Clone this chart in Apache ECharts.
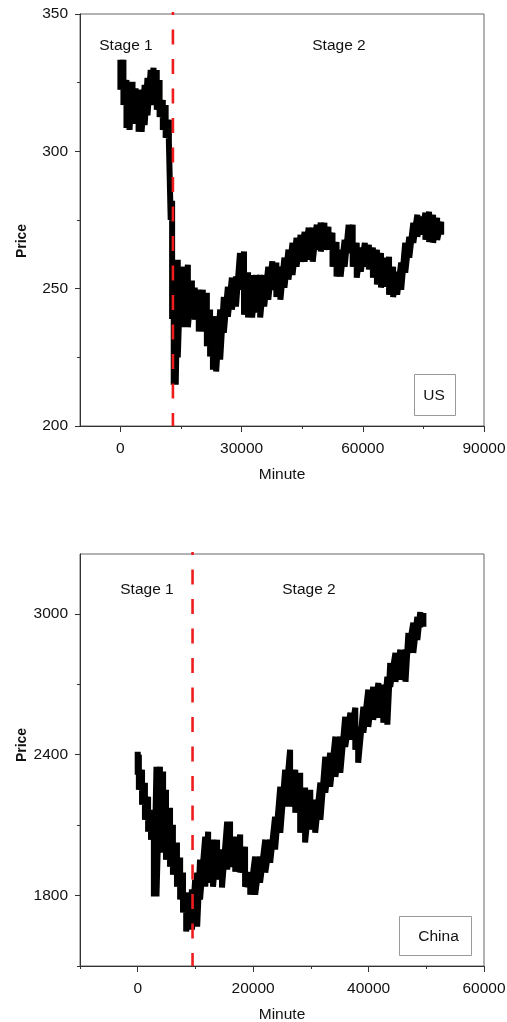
<!DOCTYPE html>
<html>
<head>
<meta charset="utf-8">
<script src="https://cdn.jsdelivr.net/npm/echarts@6/dist/echarts.min.js"></script>
<style>
    html, body { margin: 0; padding: 0; background: #fff; }
    #chart { width: 507px; height: 1022px; }
</style>
</head>
<body>
<div id="chart"></div>
<script>
// US market: sampled minutes with the high / low edge of the price trace
const usMinute = [0, 750, 1500, 2250, 3000, 3750, 4500, 5250, 6000, 6700, 7500, 8200, 9000, 9700, 10500, 11200,
    12000, 12450, 12800, 13200, 13700, 14200, 14900, 15700, 16700, 17700, 18400, 19400, 20400, 21400, 22200,
    22900, 23700, 24700, 25600, 26600, 27600, 28600, 29600, 30600, 31600, 32600, 33600, 34600, 35600, 36600,
    37600, 38600, 39600, 40600, 41600, 42600, 43600, 44600, 45600, 46600, 47600, 48600, 49600, 50500, 51500,
    52500, 53500, 54500, 55500, 56500, 57500, 58500, 59500, 60500, 61500, 62500, 63500, 64500, 65500, 66500,
    67500, 68500, 69500, 70500, 71500, 72500, 73500, 74500, 75500, 76400, 77400, 78400, 79400];
const usHigh = [333.3, 333.3, 326, 325, 325.3, 323, 321.5, 322.4, 324.2, 326.7, 329.6, 330.4, 329.6, 326, 318.7, 316.9,
    311.5, 304, 282, 253, 260.5, 260.5, 257, 258, 258.7, 253, 250.4, 249.6, 249.6, 248.5, 242.4,
    236, 240, 242.4, 247, 250.7, 254, 254.4, 263, 263.5, 256, 255, 255, 255, 255, 258,
    260, 259.5, 258, 261.3, 264.2, 266.7, 268.5, 269.6, 270.7, 272.2, 272.2, 273.3, 274, 274, 272.5,
    270.4, 267, 264.2, 267.8, 273.3, 273.3, 266.7, 265, 266.7, 266, 265, 264.2, 263, 261.3, 261.6,
    258, 256.2, 259.5, 266.7, 268.9, 274, 276.9, 276.2, 277.6, 278, 276.9, 275.8, 274.4];
const usLow = [322.4, 316.9, 308.5, 307.8, 310, 311.5, 307.1, 307.1, 309.6, 313.1, 316.9, 318.7, 315.1, 312.5, 307.8, 304.9,
    303.5, 275, 239, 215, 215, 225, 236, 236, 236, 242.4, 238.7, 234.4, 234.4, 229, 225.3,
    220.5, 219.8, 224.2, 234, 239.8, 242.4, 243.5, 249.6, 240.5, 239.5, 239.5, 241.3, 239.5, 243.5, 246,
    249.6, 247, 246, 250.4, 253.3, 255, 258, 259.8, 259.8, 260.5, 259.8, 264.2, 263.5, 264.2, 264.2,
    258, 254.4, 254.4, 258, 263, 258, 254, 256.2, 258, 257, 254, 251.5, 250.4, 250.7, 247.8,
    247, 247.8, 249.6, 255.8, 261.3, 266.7, 268.9, 269.6, 267.8, 267, 266.7, 267.8, 269.6];

// China market
const cnMinute = [0, 200, 750, 1250, 1800, 2300, 2800, 3250, 3850, 4400, 4900, 5600, 6100, 6800, 7350, 7850,
    8400, 8900, 9400, 9950, 10300, 10800, 11700, 12200, 13050, 13750, 14600, 15500, 16000, 16900, 17750,
    18600, 19500, 20350, 21200, 22100, 22950, 23800, 24700, 25550, 26400, 27300, 28150, 29000, 29900, 30750,
    31650, 32500, 33350, 34250, 35100, 35950, 36850, 37700, 38200, 39100, 39950, 40800, 41700, 42550, 43250,
    43750, 44650, 45500, 46400, 46900, 47750, 48450, 48950, 49500];
const cnHigh = [2413, 2400, 2336, 2281, 2221, 2166, 2123, 2349, 2349, 2328, 2251, 2174, 2102, 2026, 1962, 1898,
    1813, 1813, 1826, 1868, 1898, 1953, 2051, 2072, 2038, 2038, 1996, 2115, 2115, 2051, 2060,
    2008, 1898, 1966, 1966, 2038, 2038, 2136, 2264, 2336, 2421, 2336, 2323, 2260, 2251, 2208,
    2281, 2391, 2408, 2477, 2477, 2562, 2579, 2600, 2519, 2604, 2677, 2689, 2706, 2698, 2732,
    2791, 2834, 2847, 2847, 2919, 2962, 2987, 3008, 3004];
const cnLow = [2315, 2251, 2187, 2123, 2072, 2038, 1796, 1796, 2017, 1983, 1953, 1923, 1889, 1838, 1783, 1728,
    1647, 1655, 1655, 1668, 1668, 1783, 1838, 1855, 1838, 1868, 1834, 1911, 1923, 1902, 1898,
    1838, 1804, 1804, 1855, 1898, 1940, 1996, 2068, 2179, 2179, 2153, 2068, 2026, 2081, 2068,
    2123, 2238, 2264, 2306, 2323, 2434, 2464, 2421, 2366, 2494, 2519, 2549, 2557, 2536, 2528,
    2689, 2711, 2719, 2711, 2834, 2834, 2889, 2945, 2945];

// stage boundaries (minute)
const usSplit = 13000;
const cnSplit = 9500;

const usXLabels = [0, 30000, 60000, 90000];
const usXMinor = [15000, 45000, 75000];
const usYLabels = [200, 250, 300, 350];
const usYMinor = [225, 275, 325];
const cnXLabels = [0, 20000, 40000, 60000];
const cnXMinor = [-10000, 10000, 30000, 50000];
const cnYLabels = [1800, 2400, 3000];
const cnYMinor = [1500, 2100, 2700];

const FONT = "Liberation Sans";
const labelStyle = { color: "#111", fontSize: 15.5, fontFamily: FONT };
const axisLine = { show: true, onZero: false, lineStyle: { color: "#333", width: 1 } };

function mainAxis(grid, min, max, labels, tickLen, margin, extra) {
    return Object.assign({
        type: "value", gridIndex: grid, min: min, max: max,
        axisLine: axisLine,
        axisTick: { show: true, length: tickLen, customValues: labels, lineStyle: { color: "#333" } },
        axisLabel: Object.assign({ customValues: labels, margin: margin, formatter: (v) => String(v) }, labelStyle),
        splitLine: { show: false },
    }, extra);
}
function minorAxis(grid, min, max, ticks, extra) {
    return Object.assign({
        type: "value", gridIndex: grid, min: min, max: max,
        axisLine: { show: false, onZero: false },
        axisTick: { show: true, length: 3, customValues: ticks, lineStyle: { color: "#333" } },
        axisLabel: { show: false },
        splitLine: { show: false },
    }, extra);
}
function hiddenAxis(grid, min, max) {
    return { type: "value", gridIndex: grid, min: min, max: max, show: false };
}
// trace drawn as a vertical zig-zag between the high and low edge at each sample
function band(minutes, high, low) {
    const out = [];
    minutes.forEach((m, i) => {
        out.push([m, high[i]]);
        out.push([m, low[i]]);
    });
    return out;
}
const dashStyle = { color: "#ee1c1c", width: 2.6, type: [15, 14.5], dashOffset: 12 };
const xName = { position: "bottom", name: "Minute", nameLocation: "middle", nameGap: 41, nameTextStyle: labelStyle };

const chart = echarts.init(document.getElementById("chart"));
chart.setOption({
    animation: false,
    backgroundColor: "#fff",
    grid: [
        { left: 80, top: 14, width: 404, height: 412, show: true, borderColor: "#666", borderWidth: 1, outerBoundsMode: "none" },
        { left: 80, top: 554, width: 404, height: 412, show: true, borderColor: "#666", borderWidth: 1, outerBoundsMode: "none" },
        // slightly taller frames for the stage split lines, which start just above the plot top
        { left: 80, top: 12, width: 404, height: 414, show: false, outerBoundsMode: "none" },
        { left: 80, top: 552, width: 404, height: 414, show: false, outerBoundsMode: "none" },
    ],
    xAxis: [
        mainAxis(0, -10000, 90000, usXLabels, 6, 15, xName),
        minorAxis(0, -10000, 90000, usXMinor, { position: "bottom" }),
        mainAxis(1, -10000, 60000, cnXLabels, 6, 15, xName),
        minorAxis(1, -10000, 60000, cnXMinor, { position: "bottom" }),
        hiddenAxis(2, -10000, 90000),
        hiddenAxis(3, -10000, 60000),
    ],
    yAxis: [
        mainAxis(0, 200, 350, usYLabels, 5, 12, { position: "left" }),
        minorAxis(0, 200, 350, usYMinor, { position: "left" }),
        mainAxis(1, 1500, 3255, cnYLabels, 5, 12, { position: "left" }),
        minorAxis(1, 1500, 3255, cnYMinor, { position: "left" }),
        hiddenAxis(2, 200, 350.7),
        hiddenAxis(3, 1500, 3263.5),
    ],
    series: [
        {
            name: "US", type: "line", xAxisIndex: 0, yAxisIndex: 0,
            data: band(usMinute, usHigh, usLow),
            symbol: "none", silent: true,
            lineStyle: { color: "#000", width: 6 },
        },
        {
            name: "China", type: "line", xAxisIndex: 2, yAxisIndex: 2,
            data: band(cnMinute, cnHigh, cnLow),
            symbol: "none", silent: true,
            lineStyle: { color: "#000", width: 6 },
        },
        {
            type: "line", xAxisIndex: 4, yAxisIndex: 4, z: 5,
            data: [[usSplit, 350.7], [usSplit, 200]],
            symbol: "none", silent: true, lineStyle: dashStyle,
        },
        {
            type: "line", xAxisIndex: 5, yAxisIndex: 5, z: 5,
            data: [[cnSplit, 3263.5], [cnSplit, 1500]],
            symbol: "none", silent: true, lineStyle: dashStyle,
        },
    ],
    graphic: [
        { type: "text", x: 126, y: 46, style: { text: "Stage 1", font: "15.5px " + FONT, fill: "#111", align: "center", verticalAlign: "middle" } },
        { type: "text", x: 339, y: 46, style: { text: "Stage 2", font: "15.5px " + FONT, fill: "#111", align: "center", verticalAlign: "middle" } },
        { type: "text", x: 147, y: 590, style: { text: "Stage 1", font: "15.5px " + FONT, fill: "#111", align: "center", verticalAlign: "middle" } },
        { type: "text", x: 309, y: 590, style: { text: "Stage 2", font: "15.5px " + FONT, fill: "#111", align: "center", verticalAlign: "middle" } },
        { type: "text", x: 22, y: 241, rotation: Math.PI / 2, style: { text: "Price", font: "bold 14px " + FONT, fill: "#111", align: "center", verticalAlign: "middle" } },
        { type: "text", x: 22, y: 745, rotation: Math.PI / 2, style: { text: "Price", font: "bold 14px " + FONT, fill: "#111", align: "center", verticalAlign: "middle" } },
        { type: "rect", shape: { x: 414.5, y: 374.5, width: 41, height: 41 }, style: { fill: "#fff", stroke: "#999", lineWidth: 1 } },
        { type: "text", x: 434, y: 396, style: { text: "US", font: "15.5px " + FONT, fill: "#111", align: "center", verticalAlign: "middle" } },
        { type: "rect", shape: { x: 399.5, y: 916.5, width: 72, height: 39 }, style: { fill: "#fff", stroke: "#999", lineWidth: 1 } },
        { type: "text", x: 438.5, y: 937, style: { text: "China", font: "15.5px " + FONT, fill: "#111", align: "center", verticalAlign: "middle" } },
    ],
});
</script>
</body>
</html>
